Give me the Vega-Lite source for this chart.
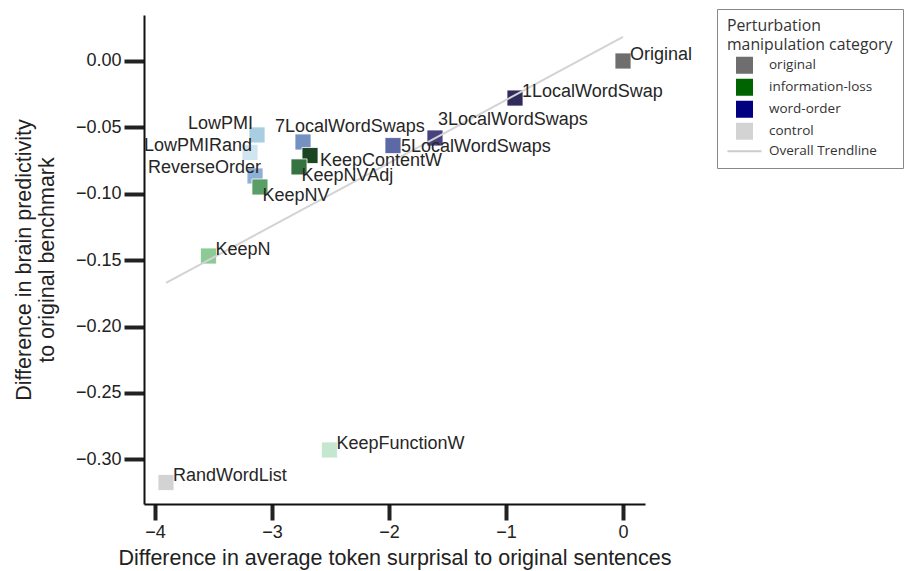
{
  "$schema": "https://vega.github.io/schema/vega-lite/v6.json",
  "width": 501,
  "height": 489,
  "autosize": {"type": "none"},
  "padding": {"left": 144, "top": 15, "right": 263, "bottom": 67},
  "background": "white",
  "config": {
    "view": {"stroke": null},
    "font": "Liberation Sans",
    "legend": {
      "orient": "none", "legendX": 573, "legendY": -6,
      "symbolOpacity": 1, "symbolStrokeWidth": 2, "symbolSize": 225,
      "symbolOffset": 9, "labelOffset": 16, "rowPadding": -1, "padding": 10,
      "strokeColor": "#888", "fillColor": "white",
      "titleFont": "Open Sans", "titleFontSize": 15.8, "titleFontWeight": "normal", "titleColor": "#333",
      "titleLineHeight": 19, "titlePadding": 3,
      "labelFont": "Open Sans", "labelFontSize": 13.5, "labelColor": "#333"
    }
  },
  "datasets": {
    "points": [
      {"label": "Original", "category": "original", "x": 0.0, "y": 0.0},
      {"label": "1LocalWordSwap", "category": "word-order", "x": -0.923, "y": -0.0279},
      {"label": "3LocalWordSwaps", "category": "word-order", "x": -1.607, "y": -0.058},
      {"label": "5LocalWordSwaps", "category": "word-order", "x": -1.966, "y": -0.0637},
      {"label": "7LocalWordSwaps", "category": "word-order", "x": -2.735, "y": -0.061},
      {"label": "KeepContentW", "category": "information-loss", "x": -2.675, "y": -0.0712},
      {"label": "KeepNVAdj", "category": "information-loss", "x": -2.769, "y": -0.0798},
      {"label": "LowPMI", "category": "control", "x": -3.128, "y": -0.0557},
      {"label": "LowPMIRand", "category": "control", "x": -3.188, "y": -0.0689},
      {"label": "ReverseOrder", "category": "word-order", "x": -3.145, "y": -0.0866},
      {"label": "KeepNV", "category": "information-loss", "x": -3.103, "y": -0.0949},
      {"label": "KeepN", "category": "information-loss", "x": -3.543, "y": -0.1469},
      {"label": "KeepFunctionW", "category": "information-loss", "x": -2.509, "y": -0.293},
      {"label": "RandWordList", "category": "control", "x": -3.906, "y": -0.3175}
    ],
    "trend": [
      {"x": -3.906, "y": -0.1672},
      {"x": 0.0, "y": 0.0181}
    ]
  },
  "encoding": {
    "x": {
      "field": "x", "type": "quantitative",
      "scale": {"domain": [-4.094, 0.188], "nice": false, "zero": false},
      "axis": {
        "values": [-4, -3, -2, -1, 0], "format": "d", "grid": false,
        "domainColor": "#111", "domainWidth": 2,
        "tickColor": "#222", "tickWidth": 4, "tickSize": 16,
        "labelFont": "Liberation Sans", "labelFontSize": 18, "labelColor": "#222", "labelPadding": 3,
        "title": "Difference in average token surprisal to original sentences",
        "titleFont": "Liberation Sans", "titleFontSize": 21.5, "titleFontWeight": "normal", "titleColor": "#222",
        "titleY": 54, "titleBaseline": "middle"
      }
    },
    "y": {
      "field": "y", "type": "quantitative",
      "scale": {"domain": [-0.3337, 0.03465], "nice": false, "zero": false},
      "axis": {
        "values": [-0.3, -0.25, -0.2, -0.15, -0.1, -0.05, 0], "format": ".2f", "grid": false,
        "domainColor": "#111", "domainWidth": 2,
        "tickColor": "#222", "tickWidth": 4, "tickSize": 20,
        "labelFont": "Liberation Sans", "labelFontSize": 18, "labelColor": "#222", "labelPadding": 3,
        "title": ["Difference in brain predictivity", "to original benchmark"],
        "titleFont": "Liberation Sans", "titleFontSize": 21.5, "titleFontWeight": "normal", "titleColor": "#222",
        "titleLineHeight": 23, "titleAngle": -90, "titleX": -120, "titleY": 244.5,
        "titleAlign": "center", "titleBaseline": "middle"
      }
    }
  },
  "layer": [
    {
      "data": {"name": "points"},
      "mark": {"type": "point", "filled": true, "opacity": 0},
      "encoding": {
        "fill": {
          "field": "category", "type": "nominal",
          "scale": {
            "domain": ["original", "information-loss", "word-order", "control", "Overall Trendline"],
            "range": ["#6e6e6e", "#006400", "#000080", "#d3d3d3", "#cccccc"]
          },
          "legend": {"title": ["Perturbation", "manipulation category"]}
        },
        "stroke": {
          "field": "category", "type": "nominal",
          "scale": {
            "domain": ["original", "information-loss", "word-order", "control", "Overall Trendline"],
            "range": ["#6e6e6e", "#006400", "#000080", "#d3d3d3", "#cccccc"]
          },
          "legend": {"title": ["Perturbation", "manipulation category"]}
        },
        "shape": {
          "field": "category", "type": "nominal",
          "scale": {
            "domain": ["original", "information-loss", "word-order", "control", "Overall Trendline"],
            "range": ["square", "square", "square", "square", "M-2.27,0H2.27"]
          },
          "legend": {"title": ["Perturbation", "manipulation category"]}
        }
      }
    },
    {
      "data": {"name": "points"},
      "mark": {"type": "square", "size": 256, "opacity": 1, "stroke": "white", "strokeWidth": 0.8},
      "encoding": {
        "color": {
          "field": "label", "type": "nominal", "legend": null,
          "scale": {
            "domain": ["Original", "1LocalWordSwap", "3LocalWordSwaps", "5LocalWordSwaps", "7LocalWordSwaps", "KeepContentW", "KeepNVAdj", "LowPMI", "LowPMIRand", "ReverseOrder", "KeepNV", "KeepN", "KeepFunctionW", "RandWordList"],
            "range": ["#6e6e6e", "#2f2b5c", "#47427f", "#5b6aa6", "#7591c1", "#1c4623", "#357440", "#a9cde1", "#d0e5ef", "#8fb0d6", "#5a9e67", "#8ccb95", "#c6e7cf", "#d3d3d3"]
          }
        }
      }
    },
    {
      "data": {"name": "trend"},
      "mark": {"type": "line", "color": "#d3d3d3", "strokeWidth": 2},
      "encoding": {}
    },
    {
      "data": {"name": "points"},
      "transform": [{"filter": {"field": "label", "oneOf": ["Original", "1LocalWordSwap", "KeepN", "KeepFunctionW", "RandWordList"]}}],
      "mark": {"type": "text", "align": "left", "baseline": "middle", "dx": 7, "dy": -6, "fontSize": 18, "font": "Liberation Sans", "color": "#262626"},
      "encoding": {"text": {"field": "label"}}
    },
    {
      "data": {"name": "points"},
      "transform": [{"filter": {"field": "label", "equal": "5LocalWordSwaps"}}],
      "mark": {"type": "text", "align": "left", "baseline": "middle", "dx": 8, "dy": 1, "fontSize": 18, "font": "Liberation Sans", "color": "#262626"},
      "encoding": {"text": {"field": "label"}}
    },
    {
      "data": {"name": "points"},
      "transform": [{"filter": {"field": "label", "equal": "KeepContentW"}}],
      "mark": {"type": "text", "align": "left", "baseline": "middle", "dx": 10, "dy": 5, "fontSize": 18, "font": "Liberation Sans", "color": "#262626"},
      "encoding": {"text": {"field": "label"}}
    },
    {
      "data": {"name": "points"},
      "transform": [{"filter": {"field": "label", "oneOf": ["KeepNV", "KeepNVAdj"]}}],
      "mark": {"type": "text", "align": "left", "baseline": "middle", "dx": 2.5, "dy": 9, "fontSize": 18, "font": "Liberation Sans", "color": "#262626"},
      "encoding": {"text": {"field": "label"}}
    },
    {
      "data": {"name": "points"},
      "transform": [{"filter": {"field": "label", "equal": "3LocalWordSwaps"}}],
      "mark": {"type": "text", "align": "left", "baseline": "middle", "dx": 3, "dy": -18, "fontSize": 18, "font": "Liberation Sans", "color": "#262626"},
      "encoding": {"text": {"field": "label"}}
    },
    {
      "data": {"name": "points"},
      "transform": [{"filter": {"field": "label", "equal": "7LocalWordSwaps"}}],
      "mark": {"type": "text", "align": "left", "baseline": "middle", "dx": -28, "dy": -15, "fontSize": 18, "font": "Liberation Sans", "color": "#262626"},
      "encoding": {"text": {"field": "label"}}
    },
    {
      "data": {"name": "points"},
      "transform": [{"filter": {"field": "label", "equal": "LowPMI"}}],
      "mark": {"type": "text", "align": "right", "baseline": "middle", "dx": -4, "dy": -11, "fontSize": 18, "font": "Liberation Sans", "color": "#262626"},
      "encoding": {"text": {"field": "label"}}
    },
    {
      "data": {"name": "points"},
      "transform": [{"filter": {"field": "label", "equal": "LowPMIRand"}}],
      "mark": {"type": "text", "align": "right", "baseline": "middle", "dx": 2, "dy": -6, "fontSize": 18, "font": "Liberation Sans", "color": "#262626"},
      "encoding": {"text": {"field": "label"}}
    },
    {
      "data": {"name": "points"},
      "transform": [{"filter": {"field": "label", "equal": "ReverseOrder"}}],
      "mark": {"type": "text", "align": "right", "baseline": "middle", "dx": 6, "dy": -8, "fontSize": 18, "font": "Liberation Sans", "color": "#262626"},
      "encoding": {"text": {"field": "label"}}
    },
    {
      "mark": {"type": "text", "align": "left", "baseline": "middle", "fontSize": 24, "font": "Liberation Sans", "color": "#262626"},
      "encoding": {
        "x": {"datum": -3.88},
        "y": {"datum": 0.0111},
        "text": {"value": "r = 0.55, p<.05"}
      }
    }
  ]
}
